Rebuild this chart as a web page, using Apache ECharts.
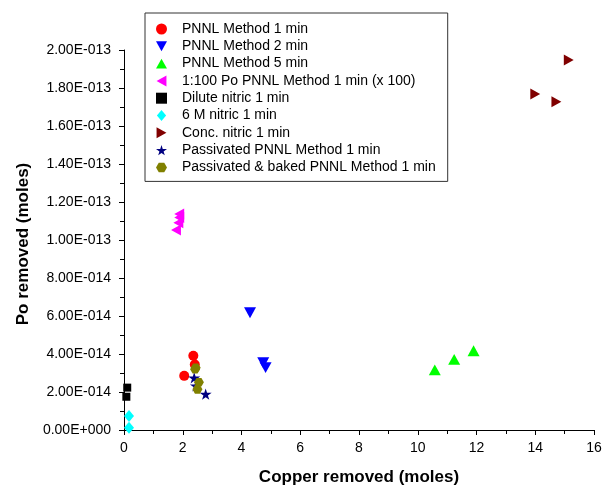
<!DOCTYPE html>
<html>
<head>
<meta charset="utf-8">
<script src="https://cdn.jsdelivr.net/npm/echarts@6/dist/echarts.min.js"></script>
<style>
  html, body { margin: 0; padding: 0; background: #fff; }
  #chart { width: 605px; height: 486px; }
</style>
</head>
<body>
<div id="chart"></div>
<script>
// tick labels as printed on the y axis (0 .. 2e-13, step 2e-14)
const yTickLabels = ['0.00E+000', '2.00E-014', '4.00E-014', '6.00E-014', '8.00E-014',
  '1.00E-013', '1.20E-013', '1.40E-013', '1.60E-013', '1.80E-013', '2.00E-013']

const seriesNames = [
  'PNNL Method 1 min',
  'PNNL Method 2 min',
  'PNNL Method 5 min',
  '1:100 Po PNNL Method 1 min (x 100)',
  'Dilute nitric 1 min',
  '6 M nitric 1 min',
  'Conc. nitric 1 min',
  'Passivated PNNL Method 1 min',
  'Passivated & baked PNNL Method 1 min'
]

// [copper removed, Po removed]
const pnnl1 = [[2.36, 3.91e-14], [2.41, 3.45e-14], [2.05, 2.85e-14]]
const pnnl2 = [[4.29, 6.17e-14], [4.74, 3.54e-14], [4.82, 3.28e-14]]
const pnnl5 = [[10.58, 3.16e-14], [11.24, 3.72e-14], [11.9, 4.17e-14]]
const dilute100 = [[1.88, 11.37e-14], [1.88, 11.19e-14], [1.85, 10.91e-14], [1.77, 10.53e-14]]
const diluteNitric = [[0.11, 2.23e-14], [0.08, 1.75e-14]]
const nitric6M = [[0.17, 0.74e-14], [0.17, 0.12e-14]]
const concNitric = [[15.14, 19.47e-14], [14.0, 17.68e-14], [14.72, 17.28e-14]]
const passivated = [[2.39, 2.75e-14], [2.45, 2.32e-14], [2.78, 1.89e-14]]
const passBaked = [[2.44, 3.28e-14], [2.42, 3.2e-14], [2.55, 2.51e-14], [2.5, 2.14e-14]]

// marker shapes
const CIRCLE = 'circle'
const TRI_UP = 'path://M5,0 L10,9 L0,9 Z'
const TRI_DOWN = 'path://M0,0 L10,0 L5,9 Z'
const TRI_LEFT = 'path://M0,5 L9,0 L9,10 Z'
const TRI_RIGHT = 'path://M0,0 L9,5 L0,10 Z'
const SQUARE = 'path://M0,0 L10,0 L10,10 L0,10 Z'
const DIAMOND = 'path://M5,0 L10,6 L5,12 L0,6 Z'
const STAR = 'path://M50,0 L61,35 L98,35 L68,57 L79,91 L50,70 L21,91 L32,57 L2,35 L39,35 Z'
const HEX = 'path://M25,0 L75,0 L100,43 L75,86 L25,86 L0,43 Z'

function scatter(name, data, color, symbol, size) {
    return {
        name: name,
        type: 'scatter',
        data: data,
        symbol: symbol,
        symbolSize: size,
        symbolKeepAspect: true,
        itemStyle: {color: color, opacity: 1},
        emphasis: {disabled: true}
    }
}

const chart = echarts.init(document.getElementById('chart'), null, {renderer: 'canvas'})

const axisCommon = {
    axisLine: {show: true, onZero: false, lineStyle: {color: '#000', width: 1}},
    axisTick: {show: true, inside: false, length: 5, lineStyle: {color: '#000'}},
    minorTick: {show: true, splitNumber: 2, length: 4, lineStyle: {color: '#000'}},
    splitLine: {show: false},
    axisLabel: {color: '#000', fontSize: 14, fontFamily: 'Liberation Sans, Arial'}
}

const nameStyle = {color: '#000', fontSize: 17, fontWeight: 'bold', fontFamily: 'Liberation Sans, Arial'}

const legendIcons = [CIRCLE, TRI_DOWN, TRI_UP, TRI_LEFT, SQUARE, DIAMOND, TRI_RIGHT, STAR, HEX]

chart.setOption({
    animation: false,
    backgroundColor: '#fff',
    grid: {left: 124, right: 11, top: 50, bottom: 56, containLabel: false, outerBoundsMode: 'none'},
    legend: {
        orient: 'vertical',
        left: 145,
        top: 13,
        padding: [9, 12, 7, 11],
        itemWidth: 11,
        itemHeight: 11,
        itemGap: 3.3,
        borderColor: '#333',
        borderWidth: 1,
        backgroundColor: '#fff',
        textStyle: {color: '#000', fontSize: 14, fontFamily: 'Liberation Sans, Arial',
            lineHeight: 11, padding: [0, 0, 0, 10]},
        data: seriesNames.map((n, i) => ({name: n, icon: legendIcons[i]}))
    },
    xAxis: Object.assign({}, axisCommon, {
        type: 'value',
        min: 0,
        max: 16,
        interval: 2,
        name: 'Copper removed (moles)',
        nameLocation: 'middle',
        nameGap: 39,
        nameMoveOverlap: false,
        nameTextStyle: nameStyle,
        axisLabel: Object.assign({}, axisCommon.axisLabel, {margin: 11})
    }),
    yAxis: Object.assign({}, axisCommon, {
        type: 'value',
        min: 0,
        max: 2e-13,
        interval: 2e-14,
        name: 'Po removed (moles)',
        nameLocation: 'middle',
        nameGap: 92,
        nameMoveOverlap: false,
        nameTextStyle: Object.assign({}, nameStyle, {padding: [0, 8, 0, 0]}),
        axisLabel: Object.assign({}, axisCommon.axisLabel, {
            margin: 13,
            formatter: v => yTickLabels[Math.round(v / 2e-14)]
        })
    }),
    series: [
        scatter(seriesNames[0], pnnl1, '#ff0000', CIRCLE, 10),
        scatter(seriesNames[1], pnnl2, '#0000ff', TRI_DOWN, 12),
        scatter(seriesNames[2], pnnl5, '#00ff00', TRI_UP, 12),
        scatter(seriesNames[3], dilute100, '#ff00ff', TRI_LEFT, 11),
        scatter(seriesNames[4], diluteNitric, '#000000', SQUARE, 8),
        scatter(seriesNames[5], nitric6M, '#00ffff', DIAMOND, 12),
        scatter(seriesNames[6], concNitric, '#800000', TRI_RIGHT, 11),
        scatter(seriesNames[7], passivated, '#000080', STAR, 12),
        scatter(seriesNames[8], passBaked, '#808000', HEX, 10)
    ]
})
</script>
</body>
</html>
